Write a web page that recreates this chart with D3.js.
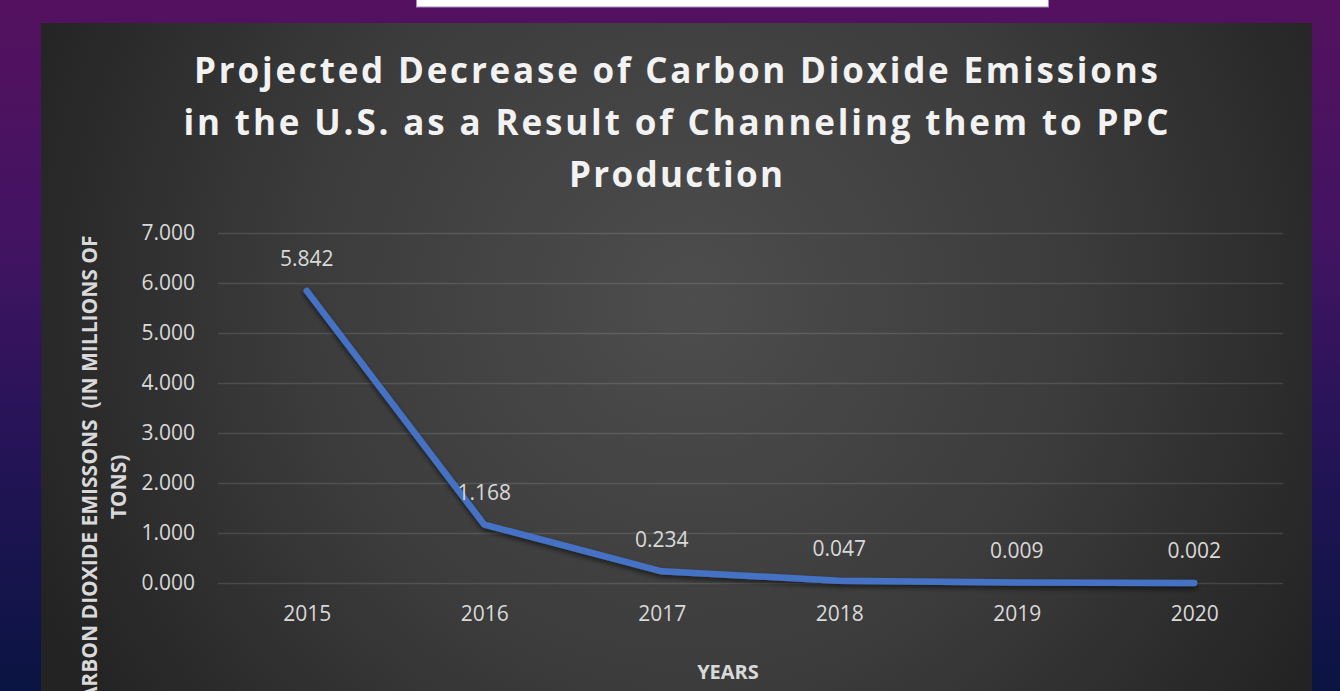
<!DOCTYPE html>
<html>
<head>
<meta charset="utf-8">
<script src="https://cdn.jsdelivr.net/npm/d3@7"></script>
<style>
  html, body { margin: 0; padding: 0; overflow: hidden; background: #0b1444; }
  svg { display: block; }
  text { font-family: "Open Sans", "DejaVu Sans", sans-serif; }
</style>
</head>
<body>
<svg id="chart" width="1340" height="691"></svg>
<script>
// ---- data ----
const years = ["2015", "2016", "2017", "2018", "2019", "2020"];
const emissions = [5.842, 1.168, 0.234, 0.047, 0.009, 0.002];
const dataLabels = ["5.842", "1.168", "0.234", "0.047", "0.009", "0.002"];
const yTicks = [0, 1, 2, 3, 4, 5, 6, 7];
const titleLines = [
  "Projected Decrease of Carbon Dioxide Emissions",
  "in the U.S. as a Result of Channeling them to PPC",
  "Production"
];
const yTitleLines = ["CARBON DIOXIDE EMISSONS  (IN MILLIONS OF", "TONS)"];
const xTitle = "YEARS";

// ---- drawing ----
const W = 1340, H = 691;
const svg = d3.select("#chart");
const defs = svg.append("defs");

const bg = defs.append("linearGradient").attr("id", "pageBg")
  .attr("x1", 0).attr("y1", 0).attr("x2", 0).attr("y2", 1);
[["0%", "#54115f"], ["35%", "#421462"], ["65%", "#241456"], ["100%", "#0a1443"]]
  .forEach(([o, c]) => bg.append("stop").attr("offset", o).attr("stop-color", c));

const panelG = defs.append("radialGradient").attr("id", "panelBg")
  .attr("gradientUnits", "userSpaceOnUse")
  .attr("cx", 690).attr("cy", 300).attr("r", 720);
[["0%", "#4d4d4d"], ["55%", "#3b3b3b"], ["100%", "#232323"]]
  .forEach(([o, c]) => panelG.append("stop").attr("offset", o).attr("stop-color", c));

const shadow = defs.append("filter").attr("id", "lineShadow")
  .attr("x", "-10%").attr("y", "-10%").attr("width", "120%").attr("height", "130%");
shadow.append("feDropShadow").attr("dx", 0).attr("dy", 3).attr("stdDeviation", 2.5)
  .attr("flood-color", "#000").attr("flood-opacity", 0.55);

svg.append("rect").attr("width", W).attr("height", H).attr("fill", "url(#pageBg)");

// white bar at top
svg.append("rect").attr("x", 416.5).attr("y", -2).attr("width", 632).attr("height", 9)
  .attr("fill", "#ffffff").attr("stroke", "#a58bbd").attr("stroke-width", 1);

// panel
const panel = { x: 41, y: 23, w: 1271, h: 680 };
svg.append("rect").attr("x", panel.x).attr("y", panel.y)
  .attr("width", panel.w).attr("height", panel.h).attr("fill", "url(#panelBg)");

// scales
const plot = { left: 218, right: 1283, top: 233, bottom: 583 };
const x = d3.scalePoint().domain(years).range([plot.left, plot.right]).padding(0.5);
const y = d3.scaleLinear().domain([0, 7]).range([plot.bottom, plot.top]);

// gridlines
const yAxis = d3.axisLeft(y).tickValues(yTicks).tickSize(-(plot.right - plot.left))
  .tickPadding(23).tickFormat(d3.format(".3f"));
const gy = svg.append("g").attr("transform", `translate(${plot.left},0)`).call(yAxis);
gy.select(".domain").remove();
gy.selectAll(".tick line").attr("stroke", "#ffffff").attr("stroke-opacity", 0.12).attr("stroke-width", 1.5);
gy.selectAll(".tick text").attr("fill", "#d9d9d9").attr("font-size", 21)
  .attr("font-family", "Open Sans, sans-serif");

// x axis
const xAxis = d3.axisBottom(x).tickSize(0).tickPadding(0);
const gx = svg.append("g").attr("transform", `translate(0,${plot.bottom})`).call(xAxis);
gx.select(".domain").remove();
gx.selectAll(".tick text").attr("fill", "#d9d9d9").attr("font-size", 21)
  .attr("font-family", "Open Sans, sans-serif").attr("dy", 0).attr("y", 38);

// line
const line = d3.line().x((d, i) => x(years[i])).y(d => y(d));
svg.append("path").datum(emissions)
  .attr("d", line).attr("fill", "none")
  .attr("stroke", "#4472c4").attr("stroke-width", 6.5)
  .attr("stroke-linecap", "round").attr("stroke-linejoin", "round")
  .attr("filter", "url(#lineShadow)");

// data labels
svg.append("g").selectAll("text").data(emissions).join("text")
  .attr("x", (d, i) => x(years[i]))
  .attr("y", d => y(d) - 32)
  .attr("dy", "0.35em")
  .attr("text-anchor", "middle")
  .attr("fill", "#d9d9d9").attr("font-size", 21)
  .text((d, i) => dataLabels[i]);

// title
const titleWidths = [964, 985, 214];
const titleBaselines = [83, 135, 187];
svg.append("g").selectAll("text").data(titleLines).join("text")
  .attr("x", 676).attr("y", (d, i) => titleBaselines[i])
  .attr("text-anchor", "middle")
  .attr("fill", "#f2f2f2").attr("font-size", 35).attr("font-weight", 700)
  .attr("textLength", (d, i) => titleWidths[i]).attr("lengthAdjust", "spacing")
  .text(d => d);

// x title
svg.append("text").attr("x", 728).attr("y", 679).attr("text-anchor", "middle")
  .attr("fill", "#d9d9d9").attr("font-size", 20).attr("font-weight", 700)
  .text(xTitle);

// y title
const yTitleCenters = [475, 487];
const yt = svg.append("g").attr("transform", "translate(97,0) rotate(-90)");
yt.selectAll("text").data(yTitleLines).join("text")
  .attr("x", (d, i) => -yTitleCenters[i]).attr("y", (d, i) => i * 29)
  .attr("text-anchor", "middle")
  .style("white-space", "pre")
  .attr("fill", "#d9d9d9").attr("font-size", 21).attr("font-weight", 700)
  .text(d => d);
</script>
</body>
</html>
